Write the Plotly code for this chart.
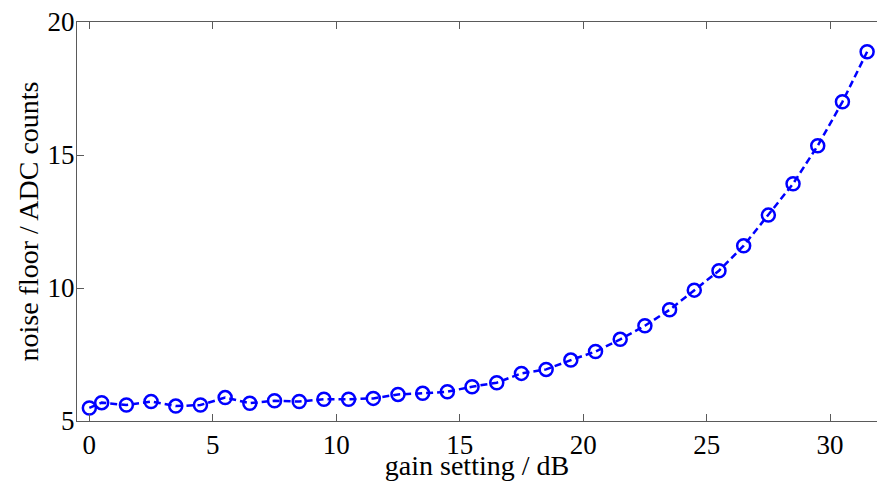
import plotly.graph_objects as go

# Gain setting (dB) and measured noise floor (ADC counts)
gain_db = [0, 0.5, 1.5, 2.5, 3.5, 4.5, 5.5, 6.5, 7.5, 8.5, 9.5, 10.5, 11.5,
           12.5, 13.5, 14.5, 15.5, 16.5, 17.5, 18.5, 19.5, 20.5, 21.5, 22.5,
           23.5, 24.5, 25.5, 26.5, 27.5, 28.5, 29.5, 30.5, 31.5]
noise_floor = [5.49, 5.69, 5.60, 5.73, 5.56, 5.60, 5.88, 5.67, 5.76, 5.73,
               5.82, 5.82, 5.85, 6.00, 6.04, 6.10, 6.29, 6.44, 6.79, 6.94,
               7.29, 7.61, 8.07, 8.58, 9.18, 9.92, 10.65, 11.59, 12.74, 13.92,
               15.35, 17.00, 18.88]

x_ticks = [0, 5, 10, 15, 20, 25, 30]
y_ticks = [5, 10, 15, 20]

BLUE = "#0000ff"
AXIS = "#5a5a5a"
FONT = "Liberation Serif"

fig = go.Figure()
fig.add_trace(go.Scatter(
    x=gain_db, y=noise_floor, mode="lines+markers",
    line=dict(color=BLUE, width=2.5, dash="7px,4px"),
    marker=dict(symbol="circle-open", size=13, color=BLUE,
                line=dict(color=BLUE, width=2.5)),
    showlegend=False, hoverinfo="x+y",
))

fig.update_layout(
    width=877, height=481,
    margin=dict(l=77, r=0, t=22, b=60, autoexpand=False),
    paper_bgcolor="white", plot_bgcolor="white",
    font=dict(family=FONT, color="black", size=27),
    xaxis=dict(
        range=[-0.5, 31.9], tickvals=x_ticks, automargin=False,
        ticks="inside", ticklen=7, tickcolor=AXIS, tickwidth=1,
        showline=True, linecolor=AXIS, linewidth=1, mirror="ticks",
        showgrid=False, zeroline=False,
        tickfont=dict(family=FONT, size=27),
        title=dict(text="gain setting / dB", font=dict(family=FONT, size=28),
                   standoff=6),
    ),
    yaxis=dict(
        range=[5, 20], tickvals=y_ticks, automargin=False,
        ticks="inside", ticklen=7, tickcolor=AXIS, tickwidth=1,
        showline=True, linecolor=AXIS, linewidth=1, mirror=False,
        showgrid=False, zeroline=False, ticklabelstandoff=-4,
        tickfont=dict(family=FONT, size=27),
        title=dict(text="noise floor / ADC counts",
                   font=dict(family=FONT, size=28), standoff=0),
    ),
    yaxis2=dict(
        overlaying="y", side="right", range=[5, 20], tickvals=y_ticks,
        automargin=False,
        ticks="inside", ticklen=7, tickcolor=AXIS, tickwidth=1,
        showline=False, showticklabels=False, showgrid=False, zeroline=False,
    ),
)

fig.write_html("out.html")
